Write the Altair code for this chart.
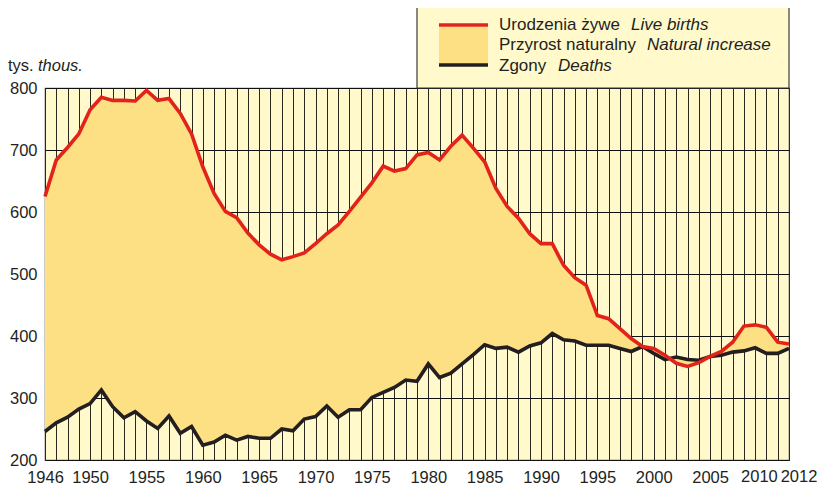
import altair as alt
import pandas as pd

years = list(range(1946, 2013))
births = [625, 684, 704, 726, 765, 785, 780, 780, 779, 796,
          780, 783, 759, 726, 673, 630, 601, 591, 566, 547,
          532, 523, 528, 534, 549, 565, 579, 601, 624, 647,
          674, 666, 670, 692, 696, 684, 706, 724, 703, 681,
          638, 609, 590, 565, 549, 549, 514, 494, 482, 433,
          428, 412, 396, 383, 380, 369, 356, 351, 357, 367,
          375, 390, 416, 418, 414, 390, 387]
deaths = [246, 260, 269, 282, 291, 313, 286, 268, 278, 263,
          251, 271, 243, 254, 224, 229, 240, 232, 238, 235,
          235, 250, 247, 266, 270, 287, 269, 281, 281, 301,
          309, 317, 329, 327, 355, 333, 340, 355, 370, 386,
          380, 382, 374, 384, 389, 404, 394, 392, 385, 385,
          385, 380, 375, 383, 372, 362, 366, 362, 361, 367,
          369, 374, 376, 381, 372, 372, 380]
label_years = [1946, 1950, 1955, 1960, 1965, 1970, 1975, 1980, 1985,
               1990, 1995, 2000, 2005]
end_label_years = [2010, 2012]
end_label_shift = [-7, 10]
y_ticks = [200, 300, 400, 500, 600, 700, 800]

FONT = "Liberation Sans"
RED = "#E2231A"
BLACK = "#231F20"
FILL = "#FDDF84"
BG = "#FFF9CC"

df = pd.DataFrame({"year": years, "births": births, "deaths": deaths})

label_list = ",".join(str(v) for v in label_years)
x_scale = alt.Scale(domain=[1946, 2012], nice=False, zero=False)
x_enc = alt.X(
    "year:Q",
    scale=x_scale,
    axis=alt.Axis(
        values=years, tickCount=len(years) + 10, format="d", title=None,
        grid=True, gridColor="#2a2820",
        gridWidth=1, ticks=False, domain=False, labelFontSize=16.5,
        labelFont=FONT, labelColor=BLACK, labelPadding=9, labelFlush=False,
        labelOverlap=False, labelBound=False,
        labelExpr=f"indexof([{label_list}], datum.value) >= 0 ? datum.label : ''",
    ),
)
y_scale = alt.Scale(domain=[200, 800], nice=False, zero=False)
y_axis = alt.Axis(
    values=y_ticks, tickCount=20, title=None, grid=True, gridColor="#111111",
    gridWidth=1, ticks=False, domain=False, labelFontSize=16.5, labelFont=FONT,
    labelColor=BLACK, labelPadding=8,
)

base = alt.Chart(df)
area = base.mark_area(color=FILL, opacity=1).encode(
    x=x_enc,
    y=alt.Y("births:Q", scale=y_scale, axis=y_axis),
    y2="deaths:Q",
)
line_d = base.mark_line(color=BLACK, strokeWidth=3.6).encode(
    x="year:Q", y=alt.Y("deaths:Q", scale=y_scale)
)
line_b = base.mark_line(color=RED, strokeWidth=3.6).encode(
    x="year:Q", y=alt.Y("births:Q", scale=y_scale)
)

end_labels = []
for yr, sh in zip(end_label_years, end_label_shift):
    end_labels.append(
        alt.Chart(pd.DataFrame({"year": [yr], "lab": [str(yr)]}))
        .mark_text(align="center", baseline="top", fontSize=16.5, font=FONT,
                   color=BLACK, dx=sh)
        .encode(x=alt.X("year:Q", scale=x_scale), y=alt.value(381), text="lab:N")
    )

one = alt.Data(values=[{"k": 1}])
box = alt.Chart(one).mark_rect(fill=BG, stroke="#3a3a3a", strokeWidth=1.2).encode(
    x=alt.value(372), x2=alt.value(744), y=alt.value(-83), y2=alt.value(0)
)
sw_fill = alt.Chart(one).mark_rect(fill=FILL).encode(
    x=alt.value(394), x2=alt.value(443), y=alt.value(-61), y2=alt.value(-24)
)
sw_red = alt.Chart(one).mark_rule(color=RED, strokeWidth=3.5).encode(
    x=alt.value(394), x2=alt.value(443), y=alt.value(-63)
)
sw_black = alt.Chart(one).mark_rule(color=BLACK, strokeWidth=3.5).encode(
    x=alt.value(394), x2=alt.value(443), y=alt.value(-23)
)


def txt(s, x, y, italic=False, size=17):
    kw = dict(align="left", baseline="middle", fontSize=size, font=FONT, color=BLACK)
    if italic:
        kw["fontStyle"] = "italic"
    return alt.Chart(one).mark_text(**kw).encode(
        x=alt.value(x), y=alt.value(y), text=alt.value(s)
    )


texts = [
    txt("Urodzenia żywe", 454, -63),
    txt("Live births", 586, -63, True),
    txt("Przyrost naturalny", 454, -43),
    txt("Natural increase", 602, -43, True),
    txt("Zgony", 454, -22),
    txt("Deaths", 513, -22, True),
    txt("tys.", -37, -22, size=16.5),
    txt("thous.", -7, -22, True, size=16.5),
]

chart = alt.layer(area, line_d, line_b, *end_labels, box, sw_fill, sw_red, sw_black,
                  *texts).properties(
    width=744, height=372,
    autosize=alt.AutoSizeParams(type="none"),
    padding={"left": 37, "top": 80, "right": 28, "bottom": 30},
    background="white",
).configure_view(fill=BG, stroke="#555555", strokeWidth=1.2)

chart.save("out.html", embed_options={"renderer": "svg", "actions": False})
